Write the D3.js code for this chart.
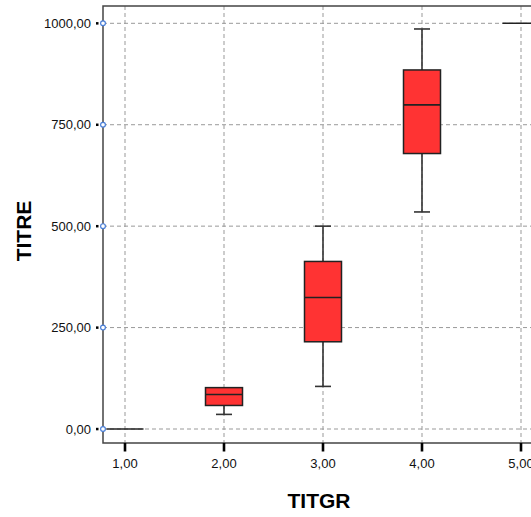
<!DOCTYPE html>
<html>
<head>
<meta charset="utf-8">
<script src="https://cdn.jsdelivr.net/npm/d3@7"></script>
<style>
  body { margin: 0; background: #fff; }
  svg { display: block; font-family: "Liberation Sans", Arial, sans-serif; }
</style>
</head>
<body>
<script>
// box plot stats
var groups = [1, 2, 3, 4, 5];
var mins    = [0, 36, 105, 535, 1000];
var q1s     = [0, 58, 215, 679, 1000];
var medians = [0, 85, 324, 799, 1000];
var q3s     = [0, 102, 413, 885, 1000];
var maxs    = [0, 102, 500, 986, 1000];
var yTicks = [0, 250, 500, 750, 1000];

const w = 531, h = 517;
const plotLeft = 103, plotTop = 6, plotBottom = 443;

var fmt = function(v){ return d3.format(".2f")(v).replace(".", ","); };

var boxes = groups.map(function(g, i){
  return {g: g, min: mins[i], q1: q1s[i], med: medians[i], q3: q3s[i], max: maxs[i]};
});

const xScale = d3.scaleLinear().domain([1, 5]).range([125, 521]);
const yScale = d3.scaleLinear().domain([0, 1000]).range([429, 23.3]);

const svg = d3.select("body").append("svg")
  .attr("width", w).attr("height", h);

// grid
svg.selectAll(".hgrid").data(yTicks).enter().append("line")
  .attr("x1", plotLeft).attr("x2", w + 10)
  .attr("y1", d => yScale(d)).attr("y2", d => yScale(d))
  .attr("stroke", "#999").attr("stroke-dasharray", "4,3");
svg.selectAll(".vgrid").data(groups).enter().append("line")
  .attr("x1", d => xScale(d)).attr("x2", d => xScale(d))
  .attr("y1", plotTop).attr("y2", plotBottom)
  .attr("stroke", "#999").attr("stroke-dasharray", "4,3");

// frame
svg.append("path")
  .attr("d", "M" + (w + 10) + "," + plotTop + "H" + plotLeft + "V" + plotBottom + "H" + (w + 10))
  .attr("fill", "none").attr("stroke", "#444").attr("stroke-width", 1.5);

// boxes
const bw = 37, cap = 16;
var b = svg.selectAll(".box").data(boxes).enter().append("g");
b.append("line")
  .attr("x1", d => xScale(d.g)).attr("x2", d => xScale(d.g))
  .attr("y1", d => yScale(d.max)).attr("y2", d => yScale(d.q3))
  .attr("stroke", "#333").attr("stroke-width", 1.6);
b.append("line")
  .attr("x1", d => xScale(d.g)).attr("x2", d => xScale(d.g))
  .attr("y1", d => yScale(d.q1)).attr("y2", d => yScale(d.min))
  .attr("stroke", "#333").attr("stroke-width", 1.6);
b.filter(d => d.max > d.q3).append("line")
  .attr("x1", d => xScale(d.g) - cap / 2).attr("x2", d => xScale(d.g) + cap / 2)
  .attr("y1", d => yScale(d.max)).attr("y2", d => yScale(d.max))
  .attr("stroke", "#333").attr("stroke-width", 1.6);
b.filter(d => d.min < d.q1).append("line")
  .attr("x1", d => xScale(d.g) - cap / 2).attr("x2", d => xScale(d.g) + cap / 2)
  .attr("y1", d => yScale(d.min)).attr("y2", d => yScale(d.min))
  .attr("stroke", "#333").attr("stroke-width", 1.6);
b.filter(d => d.q3 > d.q1).append("rect")
  .attr("x", d => xScale(d.g) - bw / 2).attr("width", bw)
  .attr("y", d => yScale(d.q3)).attr("height", d => yScale(d.q1) - yScale(d.q3))
  .attr("fill", "#ff3333").attr("stroke", "#222").attr("stroke-width", 1.5);
b.append("line")
  .attr("x1", d => xScale(d.g) - bw / 2).attr("x2", d => xScale(d.g) + bw / 2)
  .attr("y1", d => yScale(d.med)).attr("y2", d => yScale(d.med))
  .attr("stroke", "#222").attr("stroke-width", 1.6);

// y axis ticks
svg.selectAll(".ytm").data(yTicks).enter().append("rect")
  .attr("x", 96).attr("y", d => yScale(d) - 1.2).attr("width", 2.5).attr("height", 2.5)
  .attr("fill", "#000");
svg.selectAll(".ytc").data(yTicks).enter().append("circle")
  .attr("cx", plotLeft).attr("cy", d => yScale(d)).attr("r", 2.4)
  .attr("fill", "#fff").attr("stroke", "#4a7fd8").attr("stroke-width", 1.2);
svg.selectAll(".ytl").data(yTicks).enter().append("text")
  .attr("x", 91).attr("y", d => yScale(d) + 4.5)
  .attr("text-anchor", "end").attr("font-size", 13).attr("fill", "#111")
  .text(fmt);

// x axis ticks
svg.selectAll(".xtm").data(groups).enter().append("line")
  .attr("x1", d => xScale(d)).attr("x2", d => xScale(d))
  .attr("y1", plotBottom).attr("y2", plotBottom + 8.5)
  .attr("stroke", "#000").attr("stroke-width", 2.6);
svg.selectAll(".xtl").data(groups).enter().append("text")
  .attr("x", d => xScale(d)).attr("y", 468)
  .attr("text-anchor", "middle").attr("font-size", 13).attr("fill", "#111")
  .text(fmt);

// axis titles
svg.append("text")
  .attr("x", 319).attr("y", 508)
  .attr("text-anchor", "middle").attr("font-size", 21).attr("font-weight", "bold")
  .text("TITGR");
svg.append("text")
  .attr("transform", "translate(31,231) rotate(-90)")
  .attr("text-anchor", "middle").attr("font-size", 21).attr("font-weight", "bold")
  .text("TITRE");
</script>
</body>
</html>
